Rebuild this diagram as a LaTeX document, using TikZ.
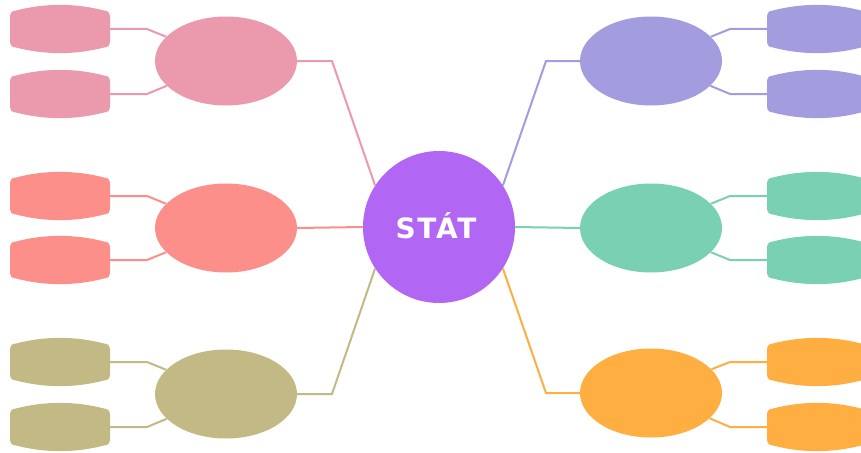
\documentclass[tikz,border=0pt]{standalone}
\usepackage{fontspec}
\setmainfont{Liberation Sans}
\newfontfamily\hubfont[LetterSpace=6]{DejaVu Sans}
\usetikzlibrary{shapes.geometric}
\definecolor{cviolet}{HTML}{B266F4}
\definecolor{cpink}{HTML}{EB9AAE}
\definecolor{csalmon}{HTML}{FC8F8A}
\definecolor{colive}{HTML}{C2B984}
\definecolor{cpurple}{HTML}{A39CDE}
\definecolor{cgreen}{HTML}{7AD0B2}
\definecolor{corange}{HTML}{FFAE42}
\tikzset{
  hub/.style={circle, fill=cviolet, minimum size=152pt, inner sep=0pt, text=white,
    font=\hubfont\bfseries\fontsize{28}{32}\selectfont},
  branch/.style={ellipse, minimum width=142pt, minimum height=89pt, inner sep=0pt},
  leafbox/.style={rectangle, minimum width=100pt, minimum height=48pt, inner sep=0pt},
  link/.style={line width=2pt},
}
\newcommand\leafshape[2]{%
  \fill[#2, shift={(#1.center)}] (-50,12) -- (-50,-12)
    .. controls (-50,-16) and (-48,-18.5) .. (-44,-18.5)
    .. controls (-15,-26) and (15,-26) .. (44,-18.5)
    .. controls (48,-18.5) and (50,-16) .. (50,-12) -- (50,12)
    .. controls (50,16) and (48,18.5) .. (44,18.5)
    .. controls (15,26) and (-15,26) .. (-44,18.5)
    .. controls (-48,18.5) and (-50,16) .. (-50,12) -- cycle;}
\begin{document}
\begin{tikzpicture}[x=1pt,y=-1pt]
\useasboundingbox (0,0) rectangle (861,452);
\clip (0,0) rectangle (861,452);
\fill[white] (0,0) rectangle (861,452);
% hub
\node[hub] (c) at (439,227) {\raisebox{2pt}{STÁT}\kern6pt};
% branches
\node[branch, fill=cpink] (e1) at (226,61) {};
\node[branch, fill=csalmon] (e2) at (226,228) {};
\node[branch, fill=colive] (e3) at (226,394) {};
\node[branch, fill=cpurple] (e4) at (651,61) {};
\node[branch, fill=cgreen] (e5) at (651,228) {};
\node[branch, fill=corange] (e6) at (651,393) {};
% leaves
\node[leafbox] (l1a) at (60,29) {};  \leafshape{l1a}{cpink}
\node[leafbox] (l1b) at (60,94) {};  \leafshape{l1b}{cpink}
\node[leafbox] (l2a) at (60,196) {}; \leafshape{l2a}{csalmon}
\node[leafbox] (l2b) at (60,260) {}; \leafshape{l2b}{csalmon}
\node[leafbox] (l3a) at (60,362) {}; \leafshape{l3a}{colive}
\node[leafbox] (l3b) at (60,427) {}; \leafshape{l3b}{colive}
\node[leafbox] (l4a) at (817,29) {};  \leafshape{l4a}{cpurple}
\node[leafbox] (l4b) at (817,94) {};  \leafshape{l4b}{cpurple}
\node[leafbox] (l5a) at (817,196) {}; \leafshape{l5a}{cgreen}
\node[leafbox] (l5b) at (817,260) {}; \leafshape{l5b}{cgreen}
\node[leafbox] (l6a) at (817,362) {}; \leafshape{l6a}{corange}
\node[leafbox] (l6b) at (817,427) {}; \leafshape{l6b}{corange}
% bend points hub-branch
\coordinate (b1) at (332,61);
\coordinate (b3) at (332,394);
\coordinate (b4) at (546,61);
\coordinate (b6) at (546,393);
\draw[link, cpink] (c.147) -- (b1) -- (e1.east);
\draw[link, csalmon] (c.west) -- (e2.east);
\draw[link, colive] (c.213) -- (b3) -- (e3.east);
\draw[link, cpurple] (c.33) -- (b4) -- (e4.west);
\draw[link, cgreen] (c.east) -- (e5.west);
\draw[link, corange] (c.327) -- (b6) -- (e6.west);
% bend points branch-leaf
\coordinate (k1a) at (147,29);  \coordinate (k1b) at (147,94);
\coordinate (k2a) at (147,196); \coordinate (k2b) at (147,260);
\coordinate (k3a) at (147,362); \coordinate (k3b) at (147,427);
\coordinate (k4a) at (730,29);  \coordinate (k4b) at (730,94);
\coordinate (k5a) at (730,196); \coordinate (k5b) at (730,260);
\coordinate (k6a) at (730,362); \coordinate (k6b) at (730,427);
\draw[link, cpink] (l1a.east) -- (k1a) -- (e1);
\draw[link, cpink] (l1b.east) -- (k1b) -- (e1);
\draw[link, csalmon] (l2a.east) -- (k2a) -- (e2);
\draw[link, csalmon] (l2b.east) -- (k2b) -- (e2);
\draw[link, colive] (l3a.east) -- (k3a) -- (e3);
\draw[link, colive] (l3b.east) -- (k3b) -- (e3);
\draw[link, cpurple] (l4a.west) -- (k4a) -- (e4);
\draw[link, cpurple] (l4b.west) -- (k4b) -- (e4);
\draw[link, cgreen] (l5a.west) -- (k5a) -- (e5);
\draw[link, cgreen] (l5b.west) -- (k5b) -- (e5);
\draw[link, corange] (l6a.west) -- (k6a) -- (e6);
\draw[link, corange] (l6b.west) -- (k6b) -- (e6);
\end{tikzpicture}
\end{document}
